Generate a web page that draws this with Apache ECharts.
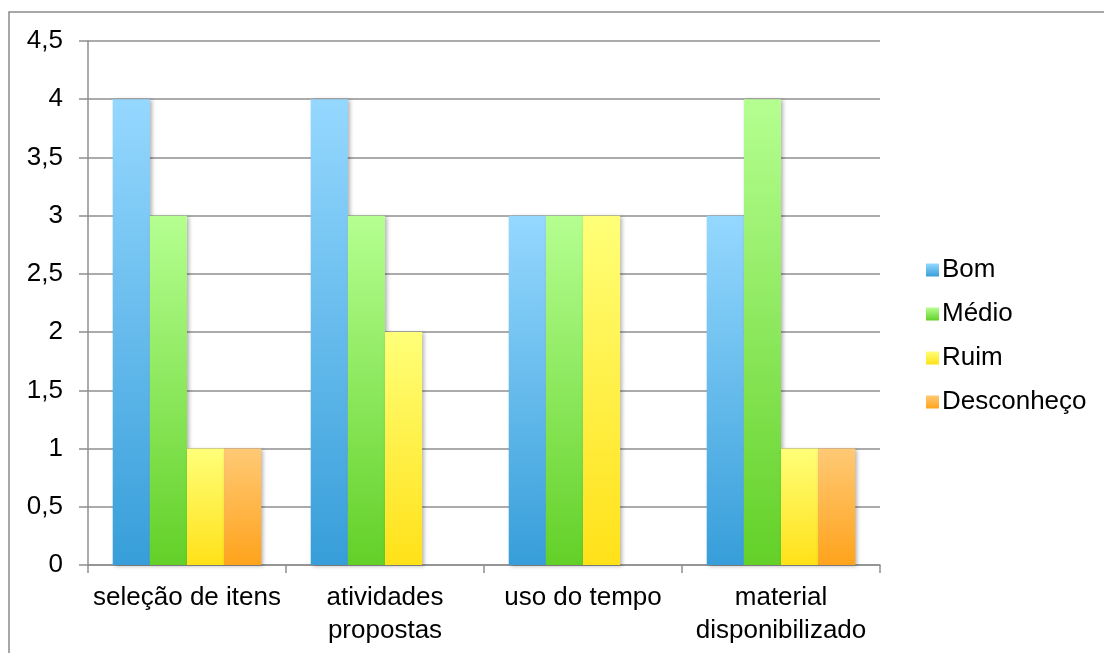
<!DOCTYPE html>
<html>
<head>
<meta charset="utf-8">
<script src="https://cdn.jsdelivr.net/npm/echarts@6/dist/echarts.min.js"></script>
<style>
html,body{margin:0;padding:0;background:#fff;}
#c{width:1104px;height:653px;}
</style>
</head>
<body>
<div id="c"></div>
<script>
var categories = ['seleção de itens', 'atividades\npropostas', 'uso do tempo', 'material\ndisponibilizado'];
var seriesNames = ['Bom', 'Médio', 'Ruim', 'Desconheço'];
var bom = [4, 4, 3, 3];
var medio = [3, 3, 3, 4];
var ruim = [1, 2, 3, 1];
var desconheco = [1, '-', '-', 1];
var yTicks = [0, 0.5, 1, 1.5, 2, 2.5, 3, 3.5, 4, 4.5];

var gradients = [
  ['#95D8FF', '#379ED9'],
  ['#B5FF91', '#63D028'],
  ['#FFFF78', '#FFE118'],
  ['#FFC975', '#FFA31C']
];
function grad(c) {
  return new echarts.graphic.LinearGradient(0, 0, 0, 1, [
    {offset: 0, color: c[0]}, {offset: 1, color: c[1]}
  ]);
}
var values = [bom, medio, ruim, desconheco];
var font = 'Liberation Sans, Arial, sans-serif';
var gray = '#8f8f8f';

var chart = echarts.init(document.getElementById('c'));
chart.setOption({
  animation: false,
  backgroundColor: '#fff',
  graphic: [{
    type: 'rect',
    shape: {x: 9, y: 12, width: 1300, height: 1000},
    style: {fill: 'none', stroke: '#8a8a8a', lineWidth: 1.5},
    silent: true, z: -1
  }],
  grid: {left: 88, right: 224, top: 41, bottom: 88, containLabel: false},
  legend: {
    orient: 'vertical',
    left: 921,
    top: 252,
    itemWidth: 13,
    itemHeight: 13,
    itemGap: 18,
    icon: 'rect',
    textStyle: {fontFamily: font, fontSize: 26, color: '#000', lineHeight: 26, padding: [0, 0, 0, -2]},
    data: seriesNames
  },
  xAxis: {
    type: 'category',
    data: categories,
    axisLine: {show: true, lineStyle: {color: gray, width: 1.5}},
    axisTick: {show: true, length: 8, lineStyle: {color: gray, width: 1.5}},
    axisLabel: {fontFamily: font, fontSize: 26, color: '#000', lineHeight: 33, margin: 16, interval: 0}
  },
  yAxis: {
    type: 'value',
    min: 0,
    max: 4.5,
    interval: 0.5,
    axisLine: {show: true, lineStyle: {color: gray, width: 1.5}},
    axisTick: {show: true, length: 9, lineStyle: {color: gray, width: 1.5}},
    splitLine: {show: true, lineStyle: {color: gray, width: 1.5}},
    axisLabel: {
      fontFamily: font, fontSize: 26, color: '#000', margin: 25,
      formatter: function (v) { return String(v).replace('.', ','); }
    }
  },
  series: seriesNames.map(function (n, i) {
    return {
      name: n,
      type: 'bar',
      data: values[i],
      barGap: '0%',
      barCategoryGap: '25%',
      itemStyle: {
        color: grad(gradients[i]),
        shadowColor: 'rgba(0,0,0,0.3)',
        shadowBlur: 4,
        shadowOffsetX: 2,
        shadowOffsetY: 1
      }
    };
  })
});
</script>
</body>
</html>
